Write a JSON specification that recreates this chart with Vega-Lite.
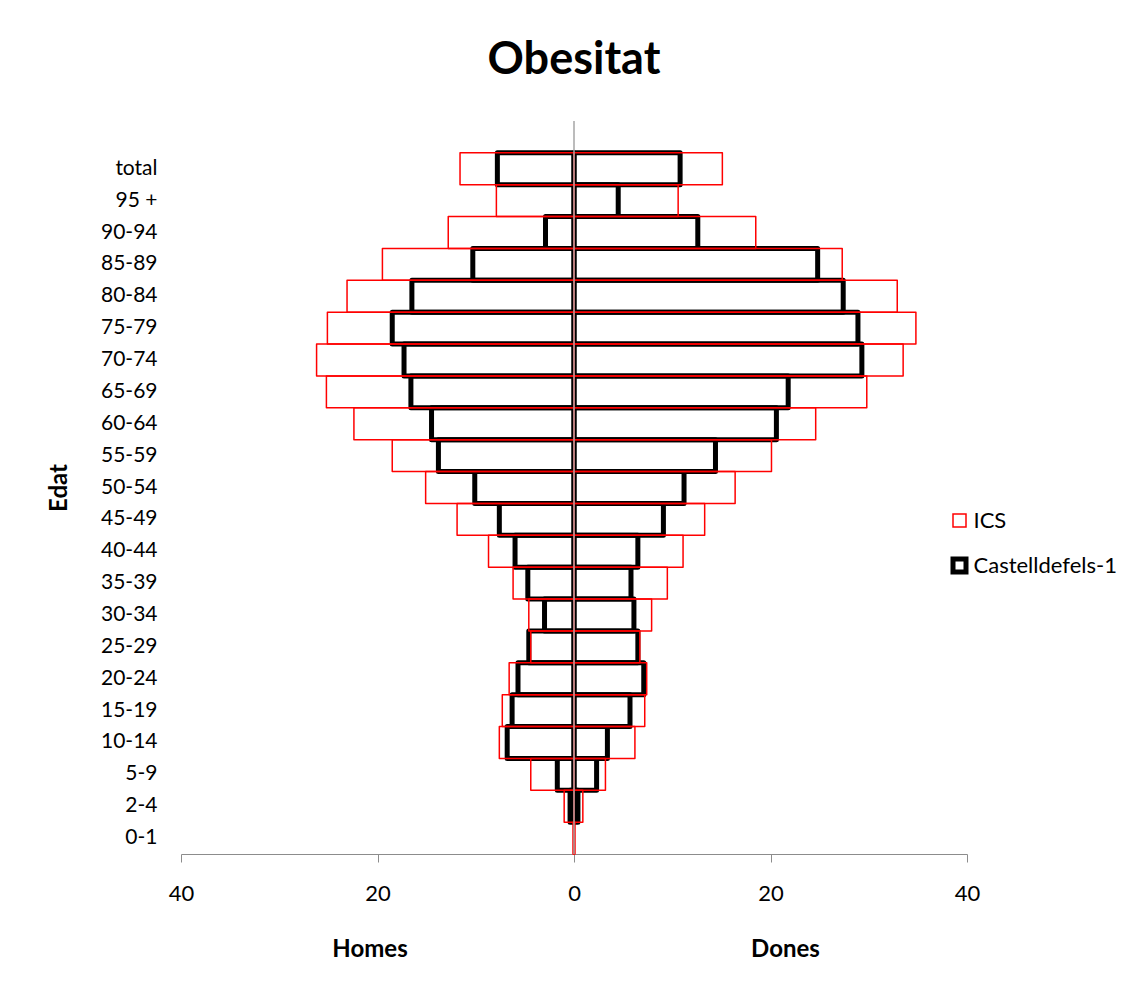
{
  "$schema": "https://vega.github.io/schema/vega-lite/v6.json",
  "autosize": "none",
  "padding": {"left": 181, "top": 121, "right": 170, "bottom": 136},
  "width": 786,
  "height": 733,
  "background": "white",
  "title": {
    "text": "Obesitat",
    "font": "Lato",
    "fontSize": 45,
    "fontWeight": "bold",
    "color": "#000000",
    "anchor": "middle",
    "offset": 37
  },
  "config": {
    "view": {"stroke": null},
    "font": "Lato"
  },
  "datasets": {
    "obesitat": [
      {"edat": "total", "serie": "Castelldefels-1", "sexe": "Homes", "valor": -7.8},
      {"edat": "total", "serie": "Castelldefels-1", "sexe": "Dones", "valor": 10.8},
      {"edat": "95 +", "serie": "Castelldefels-1", "sexe": "Homes", "valor": 0},
      {"edat": "95 +", "serie": "Castelldefels-1", "sexe": "Dones", "valor": 4.5},
      {"edat": "90-94", "serie": "Castelldefels-1", "sexe": "Homes", "valor": -2.9},
      {"edat": "90-94", "serie": "Castelldefels-1", "sexe": "Dones", "valor": 12.6},
      {"edat": "85-89", "serie": "Castelldefels-1", "sexe": "Homes", "valor": -10.3},
      {"edat": "85-89", "serie": "Castelldefels-1", "sexe": "Dones", "valor": 24.8},
      {"edat": "80-84", "serie": "Castelldefels-1", "sexe": "Homes", "valor": -16.5},
      {"edat": "80-84", "serie": "Castelldefels-1", "sexe": "Dones", "valor": 27.4},
      {"edat": "75-79", "serie": "Castelldefels-1", "sexe": "Homes", "valor": -18.5},
      {"edat": "75-79", "serie": "Castelldefels-1", "sexe": "Dones", "valor": 28.9},
      {"edat": "70-74", "serie": "Castelldefels-1", "sexe": "Homes", "valor": -17.3},
      {"edat": "70-74", "serie": "Castelldefels-1", "sexe": "Dones", "valor": 29.3},
      {"edat": "65-69", "serie": "Castelldefels-1", "sexe": "Homes", "valor": -16.6},
      {"edat": "65-69", "serie": "Castelldefels-1", "sexe": "Dones", "valor": 21.8},
      {"edat": "60-64", "serie": "Castelldefels-1", "sexe": "Homes", "valor": -14.5},
      {"edat": "60-64", "serie": "Castelldefels-1", "sexe": "Dones", "valor": 20.6},
      {"edat": "55-59", "serie": "Castelldefels-1", "sexe": "Homes", "valor": -13.8},
      {"edat": "55-59", "serie": "Castelldefels-1", "sexe": "Dones", "valor": 14.4},
      {"edat": "50-54", "serie": "Castelldefels-1", "sexe": "Homes", "valor": -10.1},
      {"edat": "50-54", "serie": "Castelldefels-1", "sexe": "Dones", "valor": 11.2},
      {"edat": "45-49", "serie": "Castelldefels-1", "sexe": "Homes", "valor": -7.6},
      {"edat": "45-49", "serie": "Castelldefels-1", "sexe": "Dones", "valor": 9.1},
      {"edat": "40-44", "serie": "Castelldefels-1", "sexe": "Homes", "valor": -6.0},
      {"edat": "40-44", "serie": "Castelldefels-1", "sexe": "Dones", "valor": 6.5},
      {"edat": "35-39", "serie": "Castelldefels-1", "sexe": "Homes", "valor": -4.7},
      {"edat": "35-39", "serie": "Castelldefels-1", "sexe": "Dones", "valor": 5.8},
      {"edat": "30-34", "serie": "Castelldefels-1", "sexe": "Homes", "valor": -3.0},
      {"edat": "30-34", "serie": "Castelldefels-1", "sexe": "Dones", "valor": 6.1},
      {"edat": "25-29", "serie": "Castelldefels-1", "sexe": "Homes", "valor": -4.6},
      {"edat": "25-29", "serie": "Castelldefels-1", "sexe": "Dones", "valor": 6.5},
      {"edat": "20-24", "serie": "Castelldefels-1", "sexe": "Homes", "valor": -5.7},
      {"edat": "20-24", "serie": "Castelldefels-1", "sexe": "Dones", "valor": 7.1},
      {"edat": "15-19", "serie": "Castelldefels-1", "sexe": "Homes", "valor": -6.3},
      {"edat": "15-19", "serie": "Castelldefels-1", "sexe": "Dones", "valor": 5.7},
      {"edat": "10-14", "serie": "Castelldefels-1", "sexe": "Homes", "valor": -6.8},
      {"edat": "10-14", "serie": "Castelldefels-1", "sexe": "Dones", "valor": 3.4},
      {"edat": "5-9", "serie": "Castelldefels-1", "sexe": "Homes", "valor": -1.7},
      {"edat": "5-9", "serie": "Castelldefels-1", "sexe": "Dones", "valor": 2.3},
      {"edat": "2-4", "serie": "Castelldefels-1", "sexe": "Homes", "valor": -0.4},
      {"edat": "2-4", "serie": "Castelldefels-1", "sexe": "Dones", "valor": 0.4},
      {"edat": "total", "serie": "ICS", "sexe": "Homes", "valor": -11.6},
      {"edat": "total", "serie": "ICS", "sexe": "Dones", "valor": 15.1},
      {"edat": "95 +", "serie": "ICS", "sexe": "Homes", "valor": -7.9},
      {"edat": "95 +", "serie": "ICS", "sexe": "Dones", "valor": 10.6},
      {"edat": "90-94", "serie": "ICS", "sexe": "Homes", "valor": -12.8},
      {"edat": "90-94", "serie": "ICS", "sexe": "Dones", "valor": 18.5},
      {"edat": "85-89", "serie": "ICS", "sexe": "Homes", "valor": -19.5},
      {"edat": "85-89", "serie": "ICS", "sexe": "Dones", "valor": 27.3},
      {"edat": "80-84", "serie": "ICS", "sexe": "Homes", "valor": -23.1},
      {"edat": "80-84", "serie": "ICS", "sexe": "Dones", "valor": 32.9},
      {"edat": "75-79", "serie": "ICS", "sexe": "Homes", "valor": -25.1},
      {"edat": "75-79", "serie": "ICS", "sexe": "Dones", "valor": 34.8},
      {"edat": "70-74", "serie": "ICS", "sexe": "Homes", "valor": -26.2},
      {"edat": "70-74", "serie": "ICS", "sexe": "Dones", "valor": 33.5},
      {"edat": "65-69", "serie": "ICS", "sexe": "Homes", "valor": -25.2},
      {"edat": "65-69", "serie": "ICS", "sexe": "Dones", "valor": 29.8},
      {"edat": "60-64", "serie": "ICS", "sexe": "Homes", "valor": -22.4},
      {"edat": "60-64", "serie": "ICS", "sexe": "Dones", "valor": 24.6},
      {"edat": "55-59", "serie": "ICS", "sexe": "Homes", "valor": -18.5},
      {"edat": "55-59", "serie": "ICS", "sexe": "Dones", "valor": 20.1},
      {"edat": "50-54", "serie": "ICS", "sexe": "Homes", "valor": -15.1},
      {"edat": "50-54", "serie": "ICS", "sexe": "Dones", "valor": 16.4},
      {"edat": "45-49", "serie": "ICS", "sexe": "Homes", "valor": -11.9},
      {"edat": "45-49", "serie": "ICS", "sexe": "Dones", "valor": 13.3},
      {"edat": "40-44", "serie": "ICS", "sexe": "Homes", "valor": -8.7},
      {"edat": "40-44", "serie": "ICS", "sexe": "Dones", "valor": 11.1},
      {"edat": "35-39", "serie": "ICS", "sexe": "Homes", "valor": -6.2},
      {"edat": "35-39", "serie": "ICS", "sexe": "Dones", "valor": 9.5},
      {"edat": "30-34", "serie": "ICS", "sexe": "Homes", "valor": -4.6},
      {"edat": "30-34", "serie": "ICS", "sexe": "Dones", "valor": 7.9},
      {"edat": "25-29", "serie": "ICS", "sexe": "Homes", "valor": -4.4},
      {"edat": "25-29", "serie": "ICS", "sexe": "Dones", "valor": 6.7},
      {"edat": "20-24", "serie": "ICS", "sexe": "Homes", "valor": -6.6},
      {"edat": "20-24", "serie": "ICS", "sexe": "Dones", "valor": 7.4},
      {"edat": "15-19", "serie": "ICS", "sexe": "Homes", "valor": -7.3},
      {"edat": "15-19", "serie": "ICS", "sexe": "Dones", "valor": 7.2},
      {"edat": "10-14", "serie": "ICS", "sexe": "Homes", "valor": -7.6},
      {"edat": "10-14", "serie": "ICS", "sexe": "Dones", "valor": 6.2},
      {"edat": "5-9", "serie": "ICS", "sexe": "Homes", "valor": -4.4},
      {"edat": "5-9", "serie": "ICS", "sexe": "Dones", "valor": 3.2},
      {"edat": "2-4", "serie": "ICS", "sexe": "Homes", "valor": -1.0},
      {"edat": "2-4", "serie": "ICS", "sexe": "Dones", "valor": 0.9},
      {"edat": "0-1", "serie": "ICS", "sexe": "Homes", "valor": -0.1},
      {"edat": "0-1", "serie": "ICS", "sexe": "Dones", "valor": 0.1}
    ],
    "eix": [{"valor": 0}]
  },
  "resolve": {"axis": {"x": "independent"}},
  "layer": [
    {
      "data": {"name": "obesitat"},
      "mark": {"type": "bar", "fill": "transparent", "strokeJoin": "round"},
      "encoding": {
        "y": {
          "field": "edat",
          "type": "nominal",
          "scale": {
            "domain": ["_", "total", "95 +", "90-94", "85-89", "80-84", "75-79", "70-74", "65-69", "60-64", "55-59", "50-54", "45-49", "40-44", "35-39", "30-34", "25-29", "20-24", "15-19", "10-14", "5-9", "2-4", "0-1"],
            "paddingInner": 0,
            "paddingOuter": 0
          },
          "axis": {
            "labelExpr": "datum.value === '_' ? '' : datum.value",
            "labelFontSize": 21,
            "labelColor": "#000000",
            "labelPadding": 24,
            "ticks": false,
            "domain": false,
            "grid": false,
            "title": "Edat",
            "titleFontSize": 24,
            "titleFontWeight": "bold",
            "titleColor": "#000000",
            "titleAngle": 270,
            "titleX": -122,
            "titleY": 366.5,
            "titleAlign": "center",
            "titleBaseline": "middle"
          }
        },
        "x": {
          "field": "valor",
          "type": "quantitative",
          "stack": null,
          "scale": {"domain": [-40, 40], "nice": false},
          "axis": {
            "orient": "bottom",
            "values": [-40, -20, 0, 20, 40],
            "labelExpr": "abs(datum.value)",
            "labelFlush": false,
            "labelFontSize": 22,
            "labelColor": "#000000",
            "labelPadding": 21,
            "tickSize": 8,
            "tickColor": "#8c8c8c",
            "domainColor": "#8c8c8c",
            "grid": false,
            "title": "Homes",
            "titleFontSize": 24,
            "titleFontWeight": "bold",
            "titleColor": "#000000",
            "titleX": 188.5,
            "titleY": 102,
            "titleAlign": "center",
            "titleBaseline": "alphabetic"
          }
        },
        "stroke": {
          "field": "serie",
          "type": "nominal",
          "scale": {"domain": ["ICS", "Castelldefels-1"], "range": ["#ff0000", "#000000"]},
          "legend": {
            "title": null,
            "orient": "none",
            "legendX": 767.5,
            "legendY": 388.5,
            "padding": 0,
            "symbolType": "square",
            "symbolSize": 169,
            "symbolFillColor": "#ffffff",
            "labelFontSize": 22,
            "labelColor": "#000000",
            "labelOffset": 3,
            "rowPadding": 17
          }
        },
        "strokeWidth": {
          "field": "serie",
          "type": "nominal",
          "scale": {"domain": ["ICS", "Castelldefels-1"], "range": [1.5, 5]},
          "legend": {
            "title": null,
            "orient": "none",
            "legendX": 767.5,
            "legendY": 388.5,
            "padding": 0,
            "symbolType": "square",
            "symbolSize": 169,
            "symbolFillColor": "#ffffff",
            "labelFontSize": 22,
            "labelColor": "#000000",
            "labelOffset": 3,
            "rowPadding": 17
          }
        }
      }
    },
    {
      "data": {"name": "eix"},
      "mark": {"type": "rule", "color": "#a6a6a6", "strokeWidth": 1.5},
      "encoding": {
        "x": {
          "field": "valor",
          "type": "quantitative",
          "axis": {
            "orient": "bottom",
            "labels": false,
            "ticks": false,
            "domain": false,
            "grid": false,
            "title": "Dones",
            "titleFontSize": 24,
            "titleFontWeight": "bold",
            "titleColor": "#000000",
            "titleX": 604,
            "titleY": 102,
            "titleAlign": "center",
            "titleBaseline": "alphabetic"
          }
        }
      }
    }
  ]
}
